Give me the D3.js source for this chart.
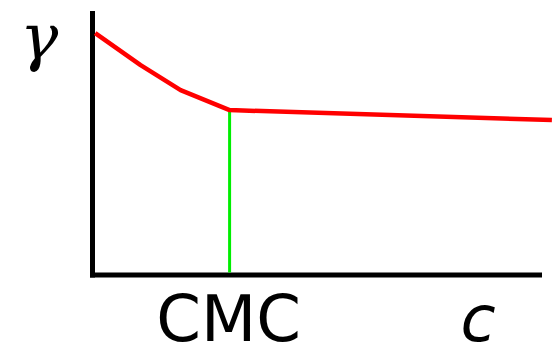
<!DOCTYPE html>
<html><head><meta charset="utf-8">
<script src="https://cdn.jsdelivr.net/npm/d3@7"></script>
<style>html,body{margin:0;padding:0;background:#fff;overflow:hidden}</style>
</head><body>
<script>
// data (arbitrary units)
const concentration = [0.6, 10.7, 19.6, 30.5, 102.2];
const surfaceTension = [92, 79.8, 70.3, 62.7, 58.9];
const cmcValue = 30.5;
const xLabel = "c";
const yLabel = "γ";
const cmcLabel = "CMC";

const W = 556, H = 343;
const svg = d3.select("body").append("svg").attr("width", W).attr("height", H);
const x = d3.scaleLinear().domain([0, 100]).range([92.5, 542]);
const y = d3.scaleLinear().domain([0, 100]).range([275, 12]);

// axes
svg.append("line").attr("x1", x(0)).attr("x2", x(0)).attr("y1", y(100) - 1).attr("y2", y(0) + 2.5)
  .attr("stroke", "#000").attr("stroke-width", 5);
svg.append("line").attr("x1", x(0) - 2.5).attr("x2", x(100)).attr("y1", y(0)).attr("y2", y(0))
  .attr("stroke", "#000").attr("stroke-width", 5);

// CMC marker
const cmcIdx = concentration.indexOf(cmcValue);
svg.append("line").attr("x1", x(cmcValue)).attr("x2", x(cmcValue))
  .attr("y1", y(surfaceTension[cmcIdx])).attr("y2", y(0) - 2.5)
  .attr("stroke", "#00ee00").attr("stroke-width", 3);

// curve
const line = d3.line().x((d, i) => x(concentration[i])).y(d => y(d));
svg.append("path").datum(surfaceTension).attr("d", line)
  .attr("fill", "none").attr("stroke", "#ff0000").attr("stroke-width", 4.5).attr("stroke-linejoin", "round");

// labels
svg.append("text").attr("x", 39).attr("y", 59).attr("text-anchor", "middle")
  .attr("font-family", "DejaVu Serif").attr("font-style", "italic").attr("font-size", 64).text(yLabel);
svg.append("text").attr("x", x(cmcValue) - 1).attr("y", 341).attr("text-anchor", "middle")
  .attr("font-family", "DejaVu Sans").attr("font-size", 64).text(cmcLabel);
svg.append("text").attr("x", 478).attr("y", 341).attr("text-anchor", "middle")
  .attr("font-family", "DejaVu Sans").attr("font-style", "oblique").attr("font-size", 64).text(xLabel);
</script>
</body></html>
